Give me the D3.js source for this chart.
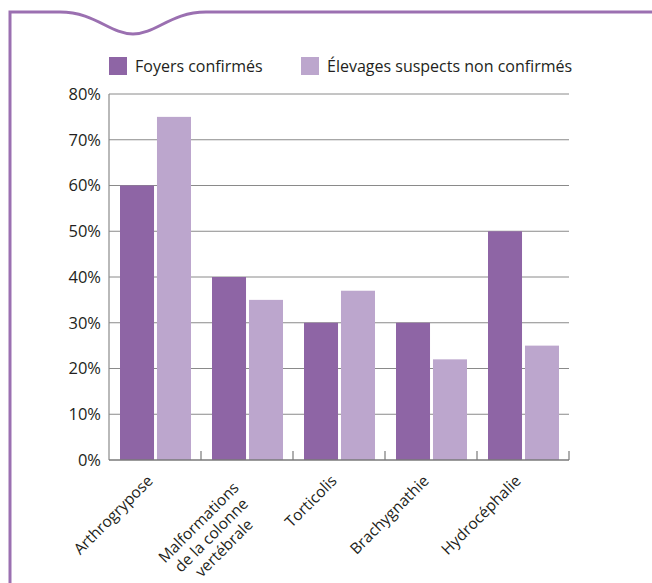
<!DOCTYPE html>
<html>
<head>
<meta charset="utf-8">
<script src="https://cdn.jsdelivr.net/npm/d3@7"></script>
<style>
  body { margin: 0; background: #fff; }
  text { font-family: "Open Sans", "Noto Sans", sans-serif; fill: #231f20; }
</style>
</head>
<body>
<svg id="chart" width="652" height="583"></svg>
<script>
var categories = [["Arthrogrypose"], ["Malformations", "de la colonne", "vertébrale"], ["Torticolis"], ["Brachygnathie"], ["Hydrocéphalie"]];
var confirmes = [60, 40, 30, 30, 50];
var suspects = [75, 35, 37, 22, 25];
var seriesNames = ["Foyers confirmés", "Élevages suspects non confirmés"];
var colors = ["#8e65a5", "#bca6cd"];
var yTicks = [0, 10, 20, 30, 40, 50, 60, 70, 80];

var svg = d3.select('#chart');
var margin = {left: 109, top: 94, right: 83, bottom: 123};
var width = 652 - margin.left - margin.right,
    height = 583 - margin.top - margin.bottom;

// frame decoration
var frame = d3.path();
frame.moveTo(10, 583);
frame.lineTo(10, 12);
frame.lineTo(60, 12);
frame.bezierCurveTo(95, 12, 110, 34, 133, 34);
frame.bezierCurveTo(156, 34, 171, 12, 206, 12);
frame.lineTo(652, 12);
svg.append('path').attr('d', frame.toString())
    .attr('fill', 'none').attr('stroke', '#9b70b1').attr('stroke-width', 3);

var g = svg.append('g').attr('transform', 'translate(' + margin.left + ',' + margin.top + ')');

var x = d3.scaleBand().domain(d3.range(categories.length)).range([0, width]);
var y = d3.scaleLinear().domain([0, 80]).range([height, 0]);
var inner = d3.scaleBand().domain([0, 1]).range([11, x.bandwidth() - 10]).paddingInner(0.08);

// gridlines
g.selectAll('.grid').data(yTicks.slice(1)).enter().append('line')
    .attr('x1', 0).attr('x2', width)
    .attr('y1', function(d) { return y(d); }).attr('y2', function(d) { return y(d); })
    .attr('stroke', '#8a8a8a').attr('stroke-width', 1);

// y labels
g.selectAll('.ylab').data(yTicks).enter().append('text')
    .attr('x', -8).attr('y', function(d) { return y(d); })
    .attr('dy', '0.36em').attr('text-anchor', 'end')
    .style('font-size', '16.5px')
    .text(function(d) { return d + '%'; });

// bars
var groups = g.selectAll('.cat').data(categories).enter().append('g')
    .attr('transform', function(d, i) { return 'translate(' + x(i) + ',0)'; });
groups.each(function(d, i) {
    var vals = [confirmes[i], suspects[i]];
    d3.select(this).selectAll('rect').data(vals).enter().append('rect')
        .attr('x', function(v, j) { return inner(j); })
        .attr('width', inner.bandwidth())
        .attr('y', function(v) { return y(v); })
        .attr('height', function(v) { return height - y(v); })
        .attr('fill', function(v, j) { return colors[j]; });
});

// axes lines
g.append('line').attr('x1', 0).attr('x2', 0).attr('y1', 0).attr('y2', height)
    .attr('stroke', '#8a8a8a').attr('stroke-width', 1.2);
g.append('line').attr('x1', 0).attr('x2', width).attr('y1', height).attr('y2', height)
    .attr('stroke', '#7a7a7a').attr('stroke-width', 1.5);
g.selectAll('.tick').data(d3.range(1, categories.length + 1)).enter().append('line')
    .attr('x1', function(d) { return d * x.step(); }).attr('x2', function(d) { return d * x.step(); })
    .attr('y1', height).attr('y2', height - 9)
    .attr('stroke', '#7a7a7a').attr('stroke-width', 1.2);

// x labels
var labels = g.selectAll('.xlab').data(categories).enter().append('g')
    .attr('transform', function(d, i) {
        var multi = d.length > 1;
        return 'translate(' + (x(i) + x.bandwidth() / 2 - (multi ? 11 : 5)) + ',' +
            (height + (multi ? 25 : 18)) + ') rotate(-45)';
    });
labels.each(function(lines) {
    var sel = d3.select(this);
    var txt = sel.append('text').style('font-size', '15.5px');
    txt.selectAll('tspan').data(lines).enter().append('tspan').text(function(l) { return l; });
    var maxW = 0;
    txt.selectAll('tspan').each(function() { maxW = Math.max(maxW, this.getComputedTextLength()); });
    txt.selectAll('tspan')
        .attr('x', lines.length > 1 ? -maxW / 2 : 0)
        .attr('y', function(l, k) { return k * 18; })
        .attr('dy', '0.35em')
        .attr('text-anchor', lines.length > 1 ? 'middle' : 'end');
});

// legend
var legend = svg.selectAll('.leg').data(seriesNames).enter().append('g')
    .attr('transform', function(d, i) { return 'translate(' + [109, 301][i] + ',57)'; });
legend.append('rect').attr('width', 18).attr('height', 18)
    .attr('fill', function(d, i) { return colors[i]; });
legend.append('text').attr('x', 26).attr('y', 9).attr('dy', '0.36em')
    .style('font-size', '16px').text(function(d) { return d; });
</script>
</body>
</html>
